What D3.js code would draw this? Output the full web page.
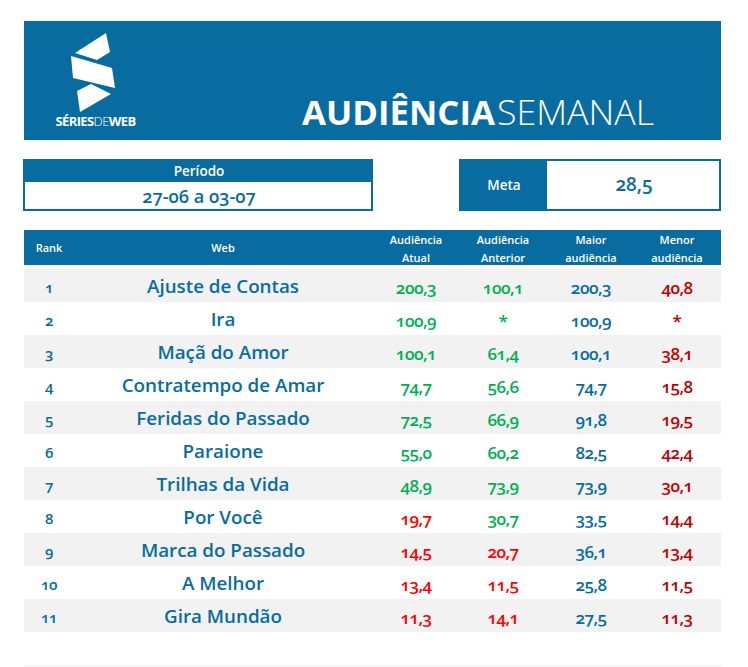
<!DOCTYPE html>
<html>
<head>
<meta charset="utf-8">
<script src="https://cdn.jsdelivr.net/npm/d3@7"></script>
<style>
  html, body { margin: 0; padding: 0; background: #fff; }
  svg { display: block; }
  text { font-family: "Open Sans", sans-serif; font-variant-numeric: oldstyle-nums; }
</style>
</head>
<body>
<svg id="main" width="748" height="667"></svg>
<script>
var ranks = ["1", "2", "3", "4", "5", "6", "7", "8", "9", "10", "11"];
var webs = ["Ajuste de Contas", "Ira", "Maçã do Amor", "Contratempo de Amar", "Feridas do Passado",
            "Paraione", "Trilhas da Vida", "Por Você", "Marca do Passado", "A Melhor", "Gira Mundão"];
var atual = ["200,3", "100,9", "100,1", "74,7", "72,5", "55,0", "48,9", "19,7", "14,5", "13,4", "11,3"];
var anterior = ["100,1", "*", "61,4", "56,6", "66,9", "60,2", "73,9", "30,7", "20,7", "11,5", "14,1"];
var maior = ["200,3", "100,9", "100,1", "74,7", "91,8", "82,5", "73,9", "33,5", "36,1", "25,8", "27,5"];
var menor = ["40,8", "*", "38,1", "15,8", "19,5", "42,4", "30,1", "14,4", "13,4", "11,5", "11,3"];
var meta = "28,5";
var periodo = "27-06 a 03-07";
var columns = ["rank", "web", "atual", "anterior", "maior", "menor"];
var headers = [["Rank"], ["Web"], ["Audiência", "Atual"], ["Audiência", "Anterior"], ["Maior", "audiência"], ["Menor", "audiência"]];

var blue = "#086ca0", green = "#00b050", red = "#ff0000", darkRed = "#c00000";
var svg = d3.select("#main");

var x = d3.scaleOrdinal().domain(columns).range([49, 223, 416, 503, 591, 677]);
var y = d3.scaleBand().domain(ranks).range([269, 632]);

function metaColor(v) {
    if (v == "*") return green;
    return parseFloat(v.replace(",", ".")) >= parseFloat(meta.replace(",", ".")) ? green : red;
}

function box(px, py, w, h, fill) {
    return svg.append("rect").attr("x", px).attr("y", py).attr("width", w).attr("height", h).attr("fill", fill);
}

function label(px, py, s, size, weight, fill) {
    return svg.append("text").attr("x", px).attr("y", py).attr("text-anchor", "middle")
        .attr("font-size", size).attr("font-weight", weight).attr("fill", fill).text(s);
}

// banner
box(24, 21, 697, 119, blue);
svg.append("g").attr("fill", "#fff").selectAll("path")
    .data(["M106,33L110,52L97,60L75,53Z", "M71,56L112,68L115,88L73,78Z", "M91,84L111,94L80,112L77,91Z"])
    .join("path").attr("d", d => d);
var logo = svg.append("text").attr("x", 95.5).attr("y", 126).attr("text-anchor", "middle")
    .attr("font-size", 13).attr("fill", "#fff").attr("letter-spacing", -0.6);
logo.append("tspan").attr("font-weight", 700).text("SÉRIES");
logo.append("tspan").attr("font-weight", 300).text("DE");
logo.append("tspan").attr("font-weight", 700).text("WEB");

svg.append("text").attr("x", 302).attr("y", 125).attr("font-size", 34).attr("font-weight", 700)
    .attr("fill", "#fff").attr("textLength", 193).attr("lengthAdjust", "spacingAndGlyphs").text("AUDIÊNCIA");
svg.append("text").attr("x", 497).attr("y", 125).attr("font-size", 34).attr("font-weight", 300)
    .attr("fill", "#fff").attr("textLength", 157).attr("lengthAdjust", "spacingAndGlyphs").text("SEMANAL");

// periodo
box(23, 159, 350, 52, blue);
box(25, 182, 346, 27, "#fff");
label(199, 176, "Período", 13.5, 600, "#fff");
label(199, 203, periodo, 18.2, 600, blue);

// meta
box(459, 159, 262, 52, blue);
box(547, 161, 172, 48, "#fff");
label(504, 190, "Meta", 13.5, 600, "#fff");
label(634, 191, meta, 19, 600, blue);

// table header
box(24, 230, 697, 35, blue);
columns.forEach(function(c, i) {
    var lines = headers[i];
    lines.forEach(function(s, j) {
        var py = lines.length == 1 ? 252 : 244 + j * 18;
        label(x(c), py, s, 11, 600, "#fff");
    });
});

// rows
svg.selectAll("rect.row").data(ranks.filter((r, i) => i % 2 == 0)).join("rect")
    .attr("class", "row").attr("x", 24).attr("width", 697)
    .attr("y", d => y(d)).attr("height", y.bandwidth()).attr("fill", "#f2f2f2");

function column(c, values, size, dy, color, spacing) {
    svg.append("g").selectAll("text").data(values).join("text")
        .attr("x", x(c)).attr("y", (d, i) => y(ranks[i]) + dy)
        .attr("text-anchor", "middle").attr("font-size", size).attr("font-weight", 600)
        .attr("letter-spacing", spacing).attr("fill", color).text(d => d);
}

column("rank", ranks, 15, 24, blue, -0.3);
column("web", webs, 18.8, 24, blue, 0);
column("atual", atual, 17, 25, metaColor, -0.5);
column("anterior", anterior, 17, 25, metaColor, -0.5);
column("maior", maior, 17, 25, blue, -0.5);
column("menor", menor, 17, 25, darkRed, -0.5);

// bottom rule
box(24, 665, 697, 1, "#efefef");
</script>
</body>
</html>
